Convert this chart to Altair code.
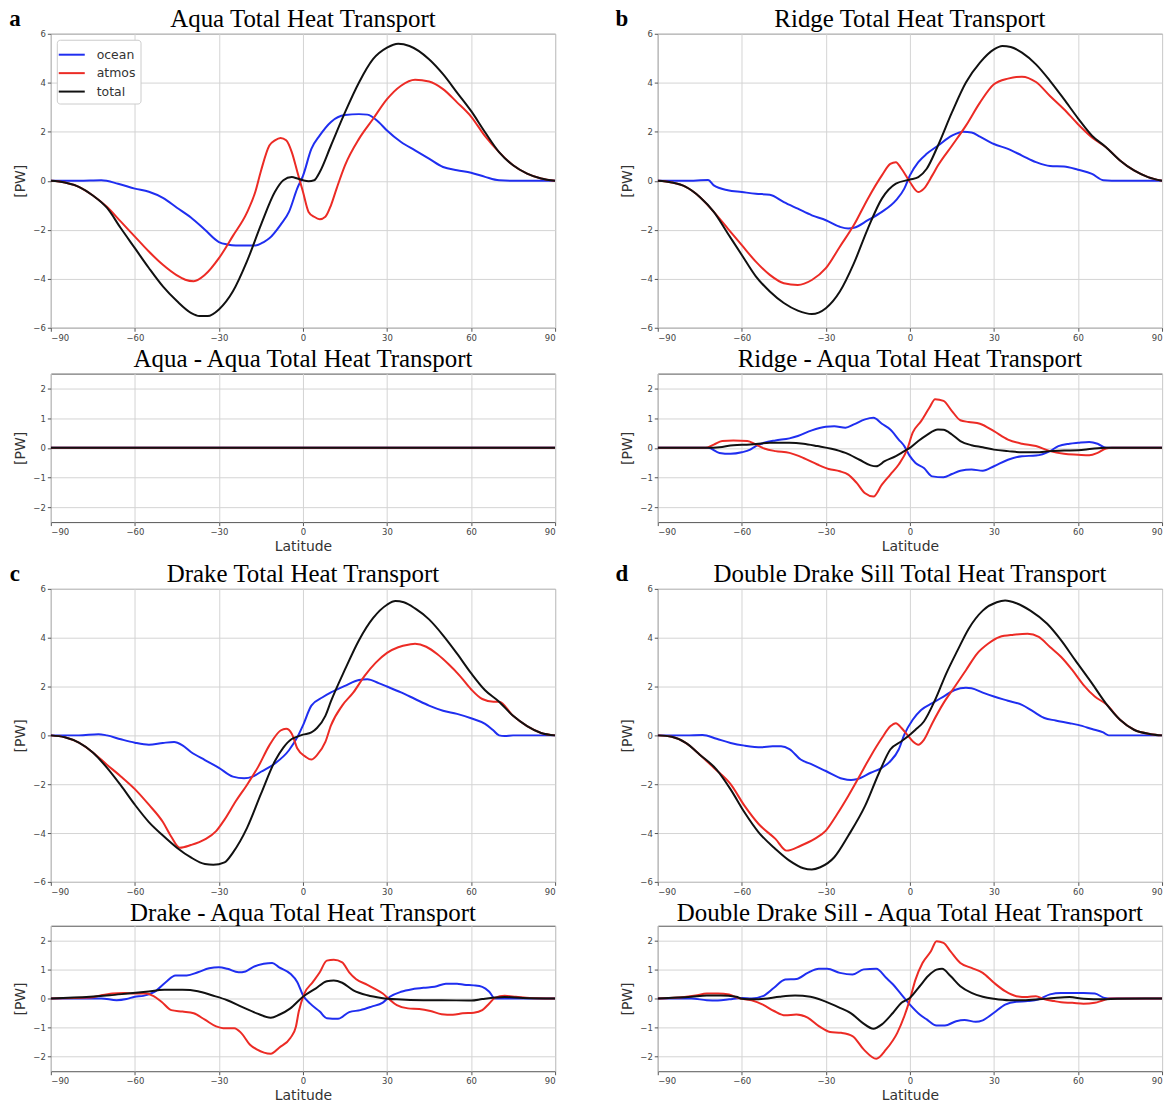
import altair as alt
import pandas as pd

# ---------------------------------------------------------------------------
# Meridional heat transport [PW] as (latitude, value) pairs
# ---------------------------------------------------------------------------
SERIES = ["ocean", "atmos", "total"]
SERIES_COLORS = ["#1f2ef0", "#ec2b25", "#111111"]
PANEL_LETTERS = ["a", "b", "c", "d"]
LAT_TICKS = [-90, -60, -30, 0, 30, 60, 90]
MAIN_TICKS = [-6, -4, -2, 0, 2, 4, 6]
DIFF_TICKS = [-2, -1, 0, 1, 2]
MAIN_DOMAIN = [-6, 6]
DIFF_DOMAIN = [-2.5, 2.5]

TITLES = [
    "Aqua Total Heat Transport", "Ridge Total Heat Transport",
    "Aqua - Aqua Total Heat Transport", "Ridge - Aqua Total Heat Transport",
    "Drake Total Heat Transport", "Double Drake Sill Total Heat Transport",
    "Drake - Aqua Total Heat Transport", "Double Drake Sill - Aqua Total Heat Transport",
]

# Aqua
AQUA_OCEAN = [(-90, 0), (-80, 0), (-72, 0.02), (-66, -0.12), (-60, -0.32), (-55, -0.45), (-50, -0.7),
              (-45, -1.1), (-40, -1.5), (-35, -2.0), (-30, -2.5), (-27, -2.6), (-24, -2.64), (-20, -2.64),
              (-17, -2.64), (-14, -2.5), (-12, -2.35), (-8, -1.8), (-5, -1.27), (-2, -0.3), (0, 0.2),
              (3, 1.3), (6, 1.85), (10, 2.4), (15, 2.68), (20, 2.72), (23, 2.7), (27, 2.4), (30, 2.05),
              (35, 1.58), (40, 1.24), (45, 0.9), (50, 0.56), (55, 0.43), (60, 0.33), (65, 0.16),
              (70, 0.02), (75, 0), (90, 0)]
AQUA_ATMOS = [(-90, 0), (-85, -0.07), (-80, -0.25), (-75, -0.6), (-70, -1.06), (-65, -1.67), (-60, -2.28),
              (-55, -2.89), (-50, -3.43), (-45, -3.86), (-42, -4.04), (-39, -4.1), (-35, -3.84),
              (-30, -3.16), (-25, -2.25), (-20, -1.3), (-17, -0.45), (-15, 0.4), (-12, 1.44), (-10, 1.65),
              (-8, 1.75), (-6, 1.65), (-4, 1.17), (-2, 0.36), (0, -0.45), (2, -1.27), (4, -1.47),
              (6, -1.57), (8, -1.47), (10, -1.0), (12, -0.32), (15, 0.63), (20, 1.71), (25, 2.52),
              (30, 3.33), (35, 3.88), (40, 4.12), (45, 4.05), (50, 3.74), (55, 3.2), (60, 2.62),
              (65, 1.82), (70, 1.17), (75, 0.63), (80, 0.29), (85, 0.09), (90, 0)]
AQUA_TOTAL = [(-90, 0), (-85, -0.07), (-80, -0.25), (-75, -0.6), (-70, -1.1), (-65, -1.94), (-60, -2.75),
              (-55, -3.56), (-50, -4.31), (-45, -4.91), (-40, -5.39), (-37, -5.52), (-34, -5.52),
              (-30, -5.25), (-25, -4.51), (-20, -3.29), (-15, -1.8), (-10, -0.45), (-7, 0.02), (-4, 0.15),
              (-2, 0.09), (0, 0.02), (2, -0.02), (4, 0.02), (6, 0.36), (10, 1.44), (15, 2.79), (20, 4.01),
              (25, 4.96), (30, 5.43), (34, 5.59), (38, 5.5), (45, 4.96), (50, 4.35), (55, 3.6),
              (60, 2.85), (65, 1.98), (70, 1.17), (75, 0.63), (80, 0.29), (85, 0.09), (90, 0)]

# Ridge
RIDGE_OCEAN = [(-90, 0), (-80, 0), (-72, 0.03), (-70, -0.19), (-65, -0.39), (-60, -0.46), (-55, -0.53),
               (-50, -0.57), (-45, -0.87), (-40, -1.14), (-35, -1.41), (-30, -1.61), (-25, -1.88),
               (-22, -1.95), (-20, -1.92), (-15, -1.61), (-10, -1.27), (-5, -0.8), (-2, -0.32), (0, 0.22),
               (3, 0.76), (6, 1.1), (10, 1.43), (15, 1.84), (19, 2.0), (22, 1.97), (25, 1.8), (30, 1.5),
               (35, 1.3), (40, 1.03), (45, 0.76), (50, 0.6), (55, 0.58), (60, 0.45), (65, 0.28),
               (69, 0.02), (72, 0), (90, 0)]
RIDGE_ATMOS = [(-90, 0), (-85, -0.07), (-80, -0.25), (-75, -0.66), (-70, -1.27), (-65, -1.95),
               (-60, -2.63), (-55, -3.3), (-50, -3.84), (-45, -4.18), (-40, -4.25), (-35, -4.05),
               (-30, -3.57), (-25, -2.69), (-20, -1.81), (-15, -0.73), (-10, 0.22), (-7, 0.69), (-5, 0.76),
               (-3, 0.49), (0, -0.05), (3, -0.46), (5, -0.32), (8, 0.22), (10, 0.62), (15, 1.43),
               (20, 2.25), (25, 3.19), (30, 3.94), (35, 4.17), (40, 4.25), (45, 4.03), (50, 3.46),
               (55, 2.92), (60, 2.31), (65, 1.77), (70, 1.37), (75, 0.83), (80, 0.42), (85, 0.15), (90, 0)]
RIDGE_TOTAL = [(-90, 0), (-85, -0.07), (-80, -0.25), (-75, -0.66), (-70, -1.27), (-65, -2.15),
               (-60, -3.03), (-55, -3.9), (-50, -4.52), (-45, -4.99), (-40, -5.3), (-35, -5.44),
               (-30, -5.2), (-25, -4.52), (-20, -3.37), (-15, -1.95), (-10, -0.73), (-5, -0.12), (0, 0.05),
               (3, 0.15), (6, 0.49), (10, 1.43), (15, 2.79), (20, 4.01), (25, 4.82), (30, 5.36), (33, 5.5),
               (36, 5.46), (40, 5.23), (45, 4.75), (50, 4.08), (55, 3.33), (60, 2.55), (65, 1.84),
               (70, 1.37), (75, 0.83), (80, 0.42), (85, 0.15), (90, 0)]

# Drake
DRAKE_OCEAN = [(-90, 0), (-80, 0), (-73, 0.05), (-70, 0), (-65, -0.16), (-60, -0.3), (-55, -0.38),
               (-50, -0.31), (-46, -0.27), (-43, -0.41), (-40, -0.68), (-35, -1.01), (-30, -1.33),
               (-25, -1.69), (-21, -1.76), (-18, -1.69), (-15, -1.49), (-10, -1.15), (-5, -0.61),
               (-2, -0.07), (0, 0.41), (3, 1.22), (7, 1.56), (10, 1.76), (15, 2.03), (20, 2.27), (23, 2.3),
               (27, 2.14), (30, 2.0), (35, 1.76), (40, 1.49), (45, 1.22), (50, 1.01), (55, 0.88),
               (60, 0.7), (65, 0.47), (68, 0.2), (70, 0.0), (72, -0.03), (75, 0), (90, 0)]
DRAKE_ATMOS = [(-90, 0), (-85, -0.08), (-80, -0.3), (-75, -0.7), (-70, -1.2), (-65, -1.68), (-60, -2.2),
               (-55, -2.84), (-50, -3.55), (-47, -4.15), (-44, -4.6), (-40, -4.49), (-35, -4.26),
               (-31, -3.92), (-28, -3.45), (-24, -2.7), (-20, -2.03), (-16, -1.29), (-12, -0.41),
               (-8, 0.2), (-6, 0.27), (-4, 0.07), (-2, -0.54), (1, -0.88), (3, -0.99), (5, -0.81),
               (8, -0.27), (10, 0.41), (14, 1.22), (18, 1.76), (22, 2.44), (26, 2.98), (30, 3.38),
               (34, 3.61), (38, 3.72), (40, 3.75), (44, 3.63), (48, 3.32), (52, 2.91), (56, 2.44),
               (60, 1.89), (64, 1.49), (68, 1.38), (70, 1.38), (75, 0.8), (80, 0.38), (85, 0.1), (90, 0)]
DRAKE_TOTAL = [(-90, 0), (-85, -0.08), (-80, -0.3), (-75, -0.7), (-70, -1.32), (-65, -2.05), (-60, -2.84),
               (-55, -3.55), (-50, -4.1), (-45, -4.6), (-40, -5.0), (-35, -5.27), (-32, -5.3), (-28, -5.2),
               (-25, -4.8), (-20, -3.8), (-15, -2.4), (-10, -1.05), (-7, -0.5), (-4, -0.15), (-2, -0.05),
               (0, 0.03), (3, 0.12), (5, 0.3), (8, 0.8), (10, 1.4), (15, 2.7), (20, 3.9), (25, 4.8),
               (30, 5.35), (33, 5.5), (36, 5.45), (40, 5.2), (45, 4.75), (50, 4.1), (55, 3.35),
               (60, 2.55), (65, 1.85), (70, 1.38), (75, 0.8), (80, 0.38), (85, 0.1), (90, 0)]

# Double Drake Sill
DDS_OCEAN = [(-90, 0), (-80, 0), (-74, 0.02), (-69, -0.14), (-64, -0.31), (-59, -0.42), (-53, -0.49),
             (-49, -0.45), (-46, -0.45), (-43, -0.56), (-39, -0.99), (-35, -1.19), (-30, -1.46),
             (-24, -1.78), (-21, -1.83), (-19, -1.8), (-14, -1.53), (-10, -1.33), (-7, -1.06), (-4, -0.58),
             (-2, 0.03), (1, 0.64), (4, 1.04), (8, 1.32), (12, 1.59), (16, 1.86), (20, 1.95), (22, 1.93),
             (26, 1.75), (30, 1.59), (35, 1.42), (40, 1.25), (44, 0.98), (48, 0.71), (52, 0.61),
             (57, 0.5), (60, 0.43), (65, 0.26), (69, 0.12), (71, 0), (90, 0)]
DDS_ATMOS = [(-90, 0), (-85, -0.06), (-80, -0.31), (-75, -0.79), (-70, -1.33), (-64, -2.0), (-59, -2.89),
             (-54, -3.63), (-48, -4.24), (-44, -4.72), (-39, -4.52), (-34, -4.24), (-30, -3.9),
             (-26, -3.23), (-22, -2.48), (-18, -1.67), (-14, -0.85), (-10, -0.11), (-7, 0.37), (-5, 0.5),
             (-3, 0.3), (-1, 0.03), (1, -0.24), (3, -0.38), (5, -0.18), (8, 0.5), (12, 1.32), (16, 1.99),
             (20, 2.67), (24, 3.35), (28, 3.76), (32, 4.03), (37, 4.12), (42, 4.16), (46, 4.03),
             (50, 3.62), (54, 3.21), (58, 2.67), (62, 2.06), (66, 1.59), (70, 1.28), (75, 0.64),
             (80, 0.23), (86, 0.05), (90, 0)]
DDS_TOTAL = [(-90, 0), (-85, -0.06), (-80, -0.31), (-75, -0.79), (-69, -1.4), (-64, -2.21), (-59, -3.16),
             (-54, -3.97), (-48, -4.65), (-43, -5.13), (-38, -5.44), (-35, -5.49), (-32, -5.4),
             (-27, -4.99), (-22, -4.11), (-16, -2.89), (-11, -1.53), (-7, -0.58), (-3, -0.24), (0, 0.03),
             (2, 0.23), (5, 0.57), (9, 1.45), (13, 2.54), (17, 3.48), (21, 4.37), (26, 5.11), (31, 5.45),
             (34, 5.52), (38, 5.41), (43, 5.11), (49, 4.57), (54, 3.89), (59, 3.08), (65, 2.13),
             (70, 1.3), (75, 0.64), (80, 0.23), (86, 0.05), (90, 0)]

# Differences from Aqua
AQUA_D_OCEAN = [(-90, 0), (0, 0), (90, 0)]
AQUA_D_ATMOS = [(-90, 0), (0, 0), (90, 0)]
AQUA_D_TOTAL = [(-90, 0), (0, 0), (90, 0)]

RIDGE_D_OCEAN = [(-90, 0), (-75, 0), (-72, 0), (-68, -0.17), (-64, -0.2), (-60, -0.15), (-57, -0.06),
                 (-55, 0.06), (-52, 0.17), (-48, 0.25), (-43, 0.32), (-40, 0.4), (-35, 0.59), (-30, 0.71),
                 (-27, 0.73), (-23, 0.68), (-20, 0.79), (-16, 0.96), (-13, 1.01), (-10, 0.81), (-7, 0.62),
                 (-4, 0.28), (-2, 0.06), (0, -0.28), (2, -0.51), (5, -0.68), (8, -0.96), (12, -0.99),
                 (15, -0.88), (18, -0.77), (22, -0.73), (26, -0.77), (30, -0.62), (35, -0.4), (40, -0.28),
                 (45, -0.26), (50, -0.11), (53, 0.06), (57, 0.14), (60, 0.17), (64, 0.2), (67, 0.14),
                 (70, 0.0), (90, 0)]
RIDGE_D_ATMOS = [(-90, 0), (-73, 0), (-70, 0.11), (-67, 0.23), (-63, 0.25), (-58, 0.23), (-55, 0.11),
                 (-52, -0.02), (-48, -0.11), (-43, -0.17), (-38, -0.34), (-33, -0.56), (-29, -0.71),
                 (-25, -0.79), (-22, -0.9), (-19, -1.18), (-16, -1.53), (-13, -1.64), (-10, -1.24),
                 (-7, -0.9), (-4, -0.56), (-1, -0.06), (1, 0.51), (4, 0.9), (7, 1.36), (9, 1.64),
                 (12, 1.58), (15, 1.24), (18, 0.93), (21, 0.87), (25, 0.81), (30, 0.56), (35, 0.28),
                 (40, 0.14), (45, 0.06), (50, -0.11), (55, -0.2), (60, -0.23), (64, -0.25), (67, -0.17),
                 (70, -0.02), (72, 0), (90, 0)]
RIDGE_D_TOTAL = [(-90, 0), (-72, 0), (-68, 0.02), (-63, 0.09), (-57, 0.11), (-50, 0.17), (-43, 0.17),
                 (-38, 0.14), (-33, 0.06), (-28, -0.03), (-23, -0.17), (-18, -0.4), (-14, -0.59),
                 (-12, -0.62), (-9, -0.45), (-5, -0.28), (-2, -0.11), (0, 0), (3, 0.23), (6, 0.43),
                 (10, 0.62), (12, 0.61), (15, 0.45), (18, 0.23), (22, 0.09), (26, 0.02), (30, -0.06),
                 (35, -0.11), (40, -0.15), (45, -0.15), (50, -0.11), (55, -0.09), (60, -0.08), (65, -0.03),
                 (70, 0), (90, 0)]

DRAKE_D_OCEAN = [(-90, 0), (-72, 0), (-66.5, -0.06), (-63, -0.02), (-60, 0.06), (-57, 0.09), (-53, 0.23),
                 (-49, 0.56), (-45.5, 0.79), (-41.5, 0.79), (-37.5, 0.9), (-33.5, 1.04), (-30, 1.07),
                 (-27, 1.02), (-23, 0.9), (-20.5, 0.93), (-18, 1.07), (-14, 1.19), (-11, 1.22),
                 (-8.5, 1.07), (-4.5, 0.85), (-2, 0.56), (0, 0.11), (2.5, -0.17), (6, -0.45), (8.5, -0.68),
                 (12.5, -0.7), (16.5, -0.47), (20.5, -0.4), (24.5, -0.28), (28.5, -0.14), (31, 0.06),
                 (35, 0.23), (39, 0.32), (43, 0.37), (47, 0.4), (51, 0.51), (55, 0.51), (57.5, 0.47),
                 (61, 0.45), (64, 0.4), (66.5, 0.23), (68.5, 0), (90, 0)]
DRAKE_D_ATMOS = [(-90, 0), (-76, 0.03), (-72, 0.11), (-68, 0.17), (-64, 0.19), (-60, 0.17), (-56, 0.17),
                 (-53.5, 0.09), (-50.5, -0.11), (-47, -0.4), (-43, -0.45), (-39, -0.51), (-35, -0.73),
                 (-31, -0.96), (-28.5, -1.02), (-24.5, -1.02), (-22, -1.19), (-19, -1.58), (-16.5, -1.75),
                 (-11.5, -1.9), (-8.5, -1.69), (-4.5, -1.36), (-2.5, -0.96), (-1.5, -0.45), (0.5, 0.17),
                 (3.5, 0.56), (6, 0.9), (8.5, 1.3), (11, 1.33), (14, 1.24), (16.5, 0.9), (19, 0.66),
                 (23, 0.47), (25.5, 0.34), (28.5, 0.17), (30.5, 0), (33.5, -0.23), (37.5, -0.34),
                 (41.5, -0.36), (45.5, -0.43), (49.5, -0.54), (53.5, -0.56), (57, -0.51), (61, -0.49),
                 (64, -0.4), (66.5, -0.17), (68.5, 0.02), (72, 0.09), (76, 0.06), (81, 0.02), (90, 0)]
DRAKE_D_TOTAL = [(-90, 0), (-76, 0.06), (-69, 0.11), (-62.5, 0.17), (-56, 0.23), (-49.5, 0.3), (-43, 0.3),
                 (-37.5, 0.25), (-32.5, 0.11), (-27, -0.06), (-22, -0.28), (-16.5, -0.51), (-11.5, -0.66),
                 (-8.5, -0.56), (-4.5, -0.34), (0, 0.06), (4.5, 0.34), (8.5, 0.59), (11, 0.62), (14, 0.54),
                 (18, 0.28), (23, 0.11), (28, 0.02), (33.5, -0.03), (43, -0.06), (49.5, -0.06), (60, -0.07),
                 (64, -0.02), (68.5, 0.03), (72, 0.05), (78.5, 0.02), (90, 0)]

DDS_D_OCEAN = [(-90, 0), (-78, 0), (-72.5, -0.06), (-68.5, -0.07), (-64.5, -0.03), (-60, 0.02),
               (-56.5, 0), (-52.5, 0.08), (-48.5, 0.37), (-44.5, 0.65), (-40.5, 0.67), (-36.5, 0.88),
               (-32.5, 1.02), (-29.5, 1.02), (-25, 0.88), (-20.5, 0.82), (-16.5, 1.0), (-12, 1.02),
               (-8.5, 0.71), (-6, 0.48), (-3.5, 0.19), (0, -0.21), (3.5, -0.55), (6, -0.72), (9.5, -0.93),
               (12.5, -0.93), (16.5, -0.78), (19.5, -0.74), (23.5, -0.8), (26, -0.75), (30, -0.49),
               (34, -0.21), (38, -0.11), (42, -0.09), (46, -0.03), (50, 0.14), (54, 0.19), (58, 0.19),
               (62, 0.19), (66, 0.17), (69.5, 0.02), (72, 0), (90, 0)]
DDS_D_ATMOS = [(-90, 0), (-80.5, 0.05), (-76.5, 0.1), (-72.5, 0.17), (-68.5, 0.17), (-64.5, 0.14),
               (-61.5, 0.02), (-56.5, -0.06), (-52.5, -0.21), (-48.5, -0.43), (-44.5, -0.58),
               (-40.5, -0.55), (-36.5, -0.66), (-32.5, -0.95), (-28.5, -1.15), (-24.5, -1.18),
               (-20.5, -1.29), (-16.5, -1.75), (-12, -2.07), (-8.5, -1.75), (-4.5, -1.18), (-2, -0.61),
               (0, -0.03), (2, 0.65), (4.5, 1.22), (7.5, 1.62), (9.5, 1.97), (12, 1.91), (14.5, 1.62),
               (18, 1.22), (22, 1.05), (26, 0.88), (30, 0.54), (34, 0.25), (38, 0.08), (42, 0.05),
               (45, 0.08), (47.5, -0.01), (51.5, -0.09), (54, -0.13), (58, -0.15), (62, -0.18),
               (66, -0.15), (69, -0.06), (71.5, 0), (90, 0)]
DDS_D_TOTAL = [(-90, 0), (-78, 0.06), (-72.5, 0.1), (-67.5, 0.1), (-62, 0.06), (-60, -0.01),
               (-55.5, -0.03), (-52, -0.01), (-46.5, 0.06), (-41, 0.1), (-35.5, 0.06), (-30.5, -0.09),
               (-25, -0.32), (-21, -0.51), (-17, -0.83), (-13, -1.04), (-10, -0.89), (-6, -0.49),
               (-3, -0.15), (0, 0.02), (3.5, 0.42), (6.5, 0.77), (9.5, 0.99), (11.5, 1.02), (14.5, 0.77),
               (18, 0.42), (22, 0.19), (26, 0.06), (30, -0.01), (35.5, -0.06), (40.5, -0.06), (46, -0.03),
               (51.5, 0.02), (57, 0.05), (62, -0.01), (69, -0.03), (74, -0.01), (90, 0)]

# ---------------------------------------------------------------------------
# Layout: every panel carries a near-invisible spacer rule whose extent fixes
# the cell size in the 2-column grid, so the plot areas land where intended.
# Panel titles and letters are text marks placed just above each plot.
# ---------------------------------------------------------------------------
PLOT_W = 506
SERIF = "Liberation Serif"
SANS = "DejaVu Sans"
MINUS = "replace(datum.label, '-', '\u2212')"


def long_frame(ocean, atmos, total):
    rows = []
    for name, pts in zip(SERIES, [ocean, atmos, total]):
        for lat, val in pts:
            rows.append({"lat": lat, "value": val, "series": name})
    return pd.DataFrame(rows)


def panel(ocean, atmos, total, title, domain, ticks, height, margins, title_y=-15,
          letter=None, xtitle=None, legend=False):
    left, top, right, bottom = margins
    df = long_frame(ocean, atmos, total)
    x = alt.X("lat:Q", scale=alt.Scale(domain=[-90, 90], nice=False),
              axis=alt.Axis(values=LAT_TICKS, title=xtitle, labelExpr=MINUS, titlePadding=3))
    y = alt.Y("value:Q", scale=alt.Scale(domain=domain, nice=False),
              axis=alt.Axis(values=ticks, title="[PW]", labelExpr=MINUS, titlePadding=5))
    if legend:
        leg = alt.Legend(title=None, orient="top-left", offset=6, padding=5,
                         fillColor="white", strokeColor="#cccccc", cornerRadius=3,
                         symbolType="M-1.45,0H1.45", symbolSize=324, symbolStrokeWidth=2,
                         labelFont=SANS, labelFontSize=12.5, labelColor="#333333",
                         labelOffset=15, rowPadding=1.5)
    else:
        leg = None
    color = alt.Color("series:N", sort=SERIES,
                      scale=alt.Scale(domain=SERIES, range=SERIES_COLORS), legend=leg)
    layers = [
        alt.Chart(pd.DataFrame({"k": [0]}))
        .mark_rule(color="white", opacity=0.003, strokeWidth=0.5)
        .encode(x=alt.value(-left), x2=alt.value(PLOT_W + right),
                y=alt.value(-top), y2=alt.value(height + bottom))
    ]
    for name in SERIES:
        layers.append(
            alt.Chart(df).transform_filter(alt.datum.series == name)
            .mark_line(strokeWidth=2, interpolate="monotone", clip=True)
            .encode(x=x, y=y, color=color)
        )
    layers.append(
        alt.Chart(pd.DataFrame({"title": [title]}))
        .mark_text(font=SERIF, fontSize=25, align="center", baseline="middle", color="black")
        .encode(text="title:N", x=alt.value(PLOT_W / 2), y=alt.value(title_y))
    )
    if letter is not None:
        layers.append(
            alt.Chart(pd.DataFrame({"letter": [letter]}))
            .mark_text(font=SERIF, fontSize=23, fontWeight="bold", align="center",
                       baseline="middle", color="black")
            .encode(text="letter:N", x=alt.value(-36), y=alt.value(title_y))
        )
    return alt.layer(*layers).properties(width=PLOT_W, height=height)


# (left, top, right, bottom) outer extents of each grid cell around its plot area
M_ROW1_L, M_ROW1_R = (45, 30, 56, 14), (45, 30, 6, 14)
M_ROW2_L, M_ROW2_R = (45, 30, 56, 35), (45, 30, 6, 35)
M_ROW3_L, M_ROW3_R = (45, 30, 56, 13), (45, 30, 6, 13)
M_ROW4_L, M_ROW4_R = (45, 28, 56, 30), (45, 28, 6, 30)

main_a = panel(AQUA_OCEAN, AQUA_ATMOS, AQUA_TOTAL, TITLES[0],
               MAIN_DOMAIN, MAIN_TICKS, 295, M_ROW1_L, letter=PANEL_LETTERS[0], legend=True)
main_b = panel(RIDGE_OCEAN, RIDGE_ATMOS, RIDGE_TOTAL, TITLES[1],
               MAIN_DOMAIN, MAIN_TICKS, 295, M_ROW1_R, letter=PANEL_LETTERS[1])
diff_a = panel(AQUA_D_OCEAN, AQUA_D_ATMOS, AQUA_D_TOTAL, TITLES[2],
               DIFF_DOMAIN, DIFF_TICKS, 149, M_ROW2_L, xtitle="Latitude")
diff_b = panel(RIDGE_D_OCEAN, RIDGE_D_ATMOS, RIDGE_D_TOTAL, TITLES[3],
               DIFF_DOMAIN, DIFF_TICKS, 149, M_ROW2_R, xtitle="Latitude")
main_c = panel(DRAKE_OCEAN, DRAKE_ATMOS, DRAKE_TOTAL, TITLES[4],
               MAIN_DOMAIN, MAIN_TICKS, 294, M_ROW3_L, letter=PANEL_LETTERS[2])
main_d = panel(DDS_OCEAN, DDS_ATMOS, DDS_TOTAL, TITLES[5],
               MAIN_DOMAIN, MAIN_TICKS, 294, M_ROW3_R, letter=PANEL_LETTERS[3])
diff_c = panel(DRAKE_D_OCEAN, DRAKE_D_ATMOS, DRAKE_D_TOTAL, TITLES[6],
               DIFF_DOMAIN, DIFF_TICKS, 146, M_ROW4_L, title_y=-13, xtitle="Latitude")
diff_d = panel(DDS_D_OCEAN, DDS_D_ATMOS, DDS_D_TOTAL, TITLES[7],
               DIFF_DOMAIN, DIFF_TICKS, 146, M_ROW4_R, title_y=-13, xtitle="Latitude")

chart = (
    alt.concat(main_a, main_b, diff_a, diff_b, main_c, main_d, diff_c, diff_d,
               columns=2, spacing=0)
    .resolve_legend(color="independent")
    .properties(padding={"left": 5, "top": 1, "right": 5, "bottom": 0}, background="white")
    .configure_view(stroke="#555555", strokeWidth=1)
    .configure_axis(
        grid=True, gridColor="#d4d4d4", gridWidth=1,
        domain=False, ticks=True, tickColor="#555555", tickSize=3.5,
        labelFont=SANS, labelFontSize=8.5, labelColor="#444444", labelPadding=2,
        titleFont=SANS, titleFontSize=14, titleFontWeight="normal", titleColor="#333333",
    )
)

chart.save("out.html", embed_options={"renderer": "svg", "actions": False})
